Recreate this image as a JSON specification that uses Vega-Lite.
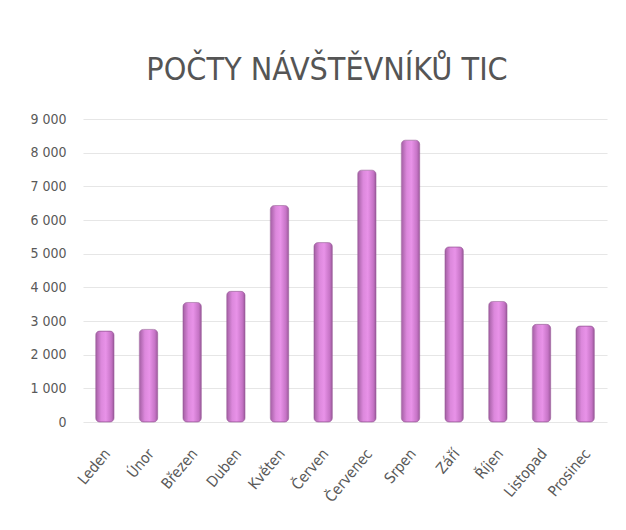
{
  "$schema": "https://vega.github.io/schema/vega-lite/v6.json",
  "autosize": "none",
  "width": 524,
  "height": 303,
  "padding": {"left": 83, "top": 119, "right": 19, "bottom": 108},
  "background": "white",
  "title": {
    "text": "POČTY NÁVŠTĚVNÍKŮ TIC",
    "font": "DejaVu Sans Condensed, Liberation Sans, sans-serif",
    "fontSize": 32,
    "fontWeight": "normal",
    "color": "#555555",
    "anchor": "middle",
    "baseline": "alphabetic",
    "offset": 0,
    "dx": -18
  },
  "data": {
    "values": [
      {"mesic": "Leden", "pocet": 2700},
      {"mesic": "Únor", "pocet": 2750},
      {"mesic": "Březen", "pocet": 3550},
      {"mesic": "Duben", "pocet": 3880},
      {"mesic": "Květen", "pocet": 6430},
      {"mesic": "Červen", "pocet": 5330},
      {"mesic": "Červenec", "pocet": 7480},
      {"mesic": "Srpen", "pocet": 8370},
      {"mesic": "Září", "pocet": 5200},
      {"mesic": "Říjen", "pocet": 3580},
      {"mesic": "Listopad", "pocet": 2900},
      {"mesic": "Prosinec", "pocet": 2850}
    ]
  },
  "mark": {
    "type": "bar",
    "cornerRadius": 4,
    "stroke": "#9a5a9a",
    "strokeWidth": 0.6,
    "color": {
      "gradient": "linear",
      "x1": 0, "y1": 0, "x2": 1, "y2": 0,
      "stops": [
        {"offset": 0, "color": "#a35fa3"},
        {"offset": 0.3, "color": "#dc88dc"},
        {"offset": 0.55, "color": "#e892e8"},
        {"offset": 0.85, "color": "#c674c6"},
        {"offset": 1, "color": "#9c5a9c"}
      ]
    }
  },
  "encoding": {
    "x": {
      "field": "mesic",
      "type": "nominal",
      "sort": null,
      "scale": {"paddingInner": 0.58, "paddingOuter": 0.29},
      "axis": {
        "title": null,
        "labelAngle": -50,
        "labelAlign": "right",
        "labelBaseline": "top",
        "labelFont": "DejaVu Sans Condensed, Liberation Sans, sans-serif",
        "labelFontSize": 15,
        "labelColor": "#595959",
        "labelPadding": 24,
        "labelOffset": -3,
        "ticks": false,
        "domain": false,
        "grid": false
      }
    },
    "y": {
      "field": "pocet",
      "type": "quantitative",
      "scale": {"domain": [0, 9000]},
      "axis": {
        "title": null,
        "values": [0, 1000, 2000, 3000, 4000, 5000, 6000, 7000, 8000, 9000],
        "labelExpr": "replace(format(datum.value, ','), ',', ' ')",
        "labelFont": "DejaVu Sans Condensed, Liberation Sans, sans-serif",
        "labelFontSize": 14,
        "labelColor": "#595959",
        "labelPadding": 17,
        "ticks": false,
        "domain": false,
        "gridColor": "#e6e6e6",
        "gridWidth": 1.2
      }
    }
  },
  "config": {
    "view": {"stroke": null}
  }
}
